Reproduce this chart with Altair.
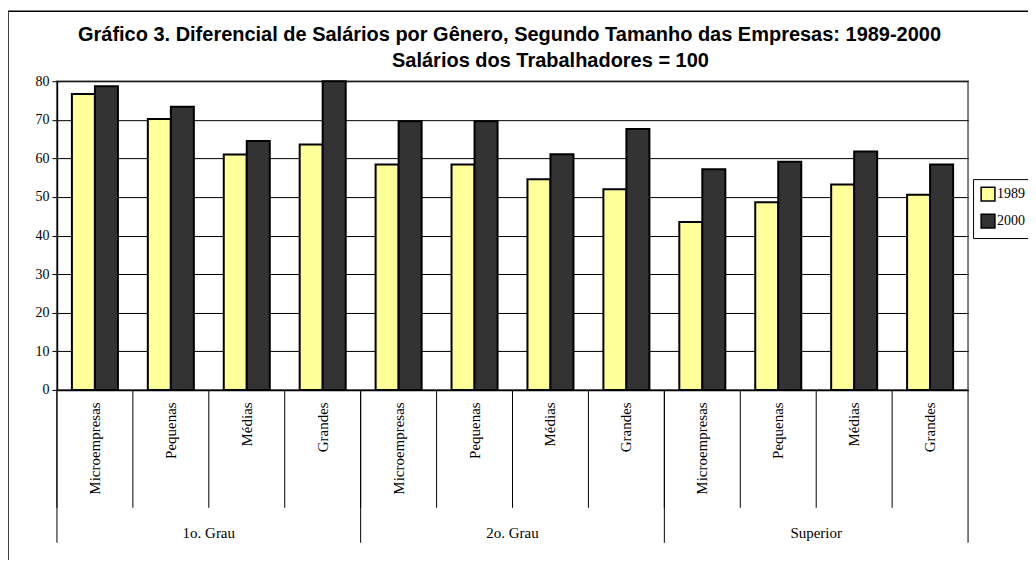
import altair as alt
import pandas as pd

niveis = ["1o. Grau", "2o. Grau", "Superior"]
portes = ["Microempresas", "Pequenas", "Médias", "Grandes"]
anos = ["1989", "2000"]
v1989 = [76.7, 70.2, 61.0, 63.6, 58.4, 58.4, 54.6, 52.0, 43.5, 48.6, 53.2, 50.6]
v2000 = [78.7, 73.4, 64.5, 80.0, 69.6, 69.6, 61.1, 67.6, 57.2, 59.1, 61.8, 58.4]
titulo1 = "Gráfico 3. Diferencial de Salários por Gênero, Segundo Tamanho das Empresas: 1989-2000"
titulo2 = "Salários dos Trabalhadores = 100"

keys = [f"{n}|{p}" for n in niveis for p in portes]
rows = []
for i, k in enumerate(keys):
    rows.append({"key": k, "ano": "1989", "valor": v1989[i]})
    rows.append({"key": k, "ano": "2000", "valor": v2000[i]})
df = pd.DataFrame(rows)
df_keys = pd.DataFrame({"key": keys})
df_starts = pd.DataFrame({"key": [f"{n}|{portes[0]}" for n in niveis]})
df_end = pd.DataFrame({"key": [keys[-1]]})
df_lab = pd.DataFrame({"key": [f"{n}|{portes[1]}" for n in niveis], "nivel": niveis})
df_sub = pd.DataFrame({"t": [titulo2]})

W, H = 912, 309
SERIF = "Liberation Serif"
SANS = "Liberation Sans"
xscale = alt.Scale(domain=keys, paddingInner=0, paddingOuter=0)
xaxis = alt.Axis(title=None, labelAngle=-90, ticks=False, grid=False,
                 labelExpr="split(datum.label, '|')[1]",
                 labelFont=SERIF, labelFontSize=15, labelColor="black",
                 labelPadding=12, domainColor="black", domainWidth=1.5)


def xenc(bp=None):
    if bp is None:
        return alt.X("key:N", scale=xscale, sort=keys, axis=xaxis)
    return alt.X("key:N", scale=xscale, sort=keys, axis=xaxis, bandPosition=bp)


bars = alt.Chart(df).mark_bar(stroke="black", strokeWidth=2).encode(
    x=xenc(),
    xOffset=alt.XOffset("ano:N", scale=alt.Scale(paddingInner=0, paddingOuter=0.65)),
    y=alt.Y("valor:Q", scale=alt.Scale(domain=[0, 80], nice=False),
            axis=alt.Axis(title=None, values=list(range(0, 81, 10)), tickSize=5,
                          tickColor="black", domainColor="black", domainWidth=1.5,
                          gridColor="black", gridWidth=1, labelFont=SERIF,
                          labelFontSize=14, labelColor="black", labelPadding=3)),
    color=alt.Color("ano:N", scale=alt.Scale(domain=anos, range=["#FFFF99", "#333333"]),
                    legend=alt.Legend(title=None, orient="none", legendX=917, legendY=98,
                                      symbolType="square", symbolSize=190,
                                      symbolStrokeColor="black", symbolStrokeWidth=1.5,
                                      labelFont=SERIF, labelFontSize=14, labelColor="black",
                                      labelOffset=1, strokeColor="black", fillColor="white",
                                      padding=7, rowPadding=7)),
)

inner = alt.Chart(df_keys).mark_rule(color="black", strokeWidth=1).encode(
    x=xenc(0), y=alt.value(H), y2=alt.value(H + 118),
)
grp = alt.Chart(df_starts).mark_rule(color="black", strokeWidth=1).encode(
    x=xenc(0), y=alt.value(H), y2=alt.value(H + 153),
)
grp_end = alt.Chart(df_end).mark_rule(color="black", strokeWidth=1).encode(
    x=xenc(1), y=alt.value(H), y2=alt.value(H + 153),
)
labels = alt.Chart(df_lab).mark_text(font=SERIF, fontSize=15, color="black",
                                     baseline="middle").encode(
    x=xenc(1), y=alt.value(H + 143), text="nivel:N",
)
subtitle = alt.Chart(df_sub).mark_text(font=SANS, fontSize=20, fontWeight="bold",
                                       color="black", align="center",
                                       baseline="alphabetic").encode(
    x=alt.value(494), y=alt.value(-14), text="t:N",
)
frame_top = alt.Chart(df_end).mark_rule(color="black", strokeWidth=1.5).encode(
    x=alt.value(-49), x2=alt.value(1000), y=alt.value(-70))
frame_left = alt.Chart(df_end).mark_rule(color="black", strokeWidth=1.5).encode(
    x=alt.value(-49), y=alt.value(-70), y2=alt.value(500))

chart = alt.layer(bars, inner, grp, grp_end, labels, subtitle, frame_top,
                  frame_left).properties(
    width=W, height=H,
    title=alt.TitleParams(text=titulo1, font=SANS, fontSize=20,
                          fontWeight="bold", color="black", anchor="middle",
                          baseline="alphabetic", frame="group", dx=-3, dy=73,
                          offset=22),
    autosize=alt.AutoSizeParams(type="none"),
    padding={"left": 49, "top": 73, "right": 60, "bottom": 170},
).configure_view(stroke="#808080", strokeWidth=2).configure_axis(labelFont=SERIF)

chart.save("out.html", embed_options={"renderer": "svg", "actions": False})
